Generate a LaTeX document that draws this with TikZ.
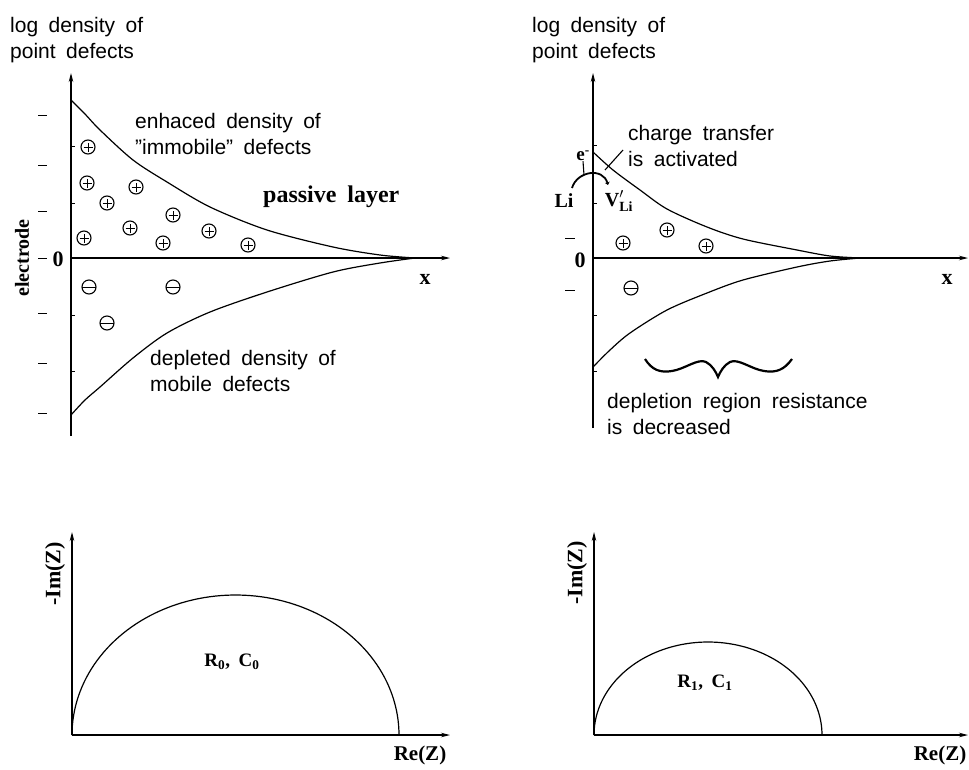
\documentclass[tikz,border=0pt]{standalone}
\usepackage{fontspec}
\setmainfont{Liberation Serif}[WordSpace=1.8]
\setsansfont{Liberation Sans}[WordSpace=1.8]
\usetikzlibrary{arrows.meta}

\begin{document}
\begin{tikzpicture}[x=1pt, y=-1pt,
    lbl/.style={font={\sffamily\fontsize{21}{26.5}\selectfont}, align=left, inner sep=0},
    bld/.style={font={\bfseries\fontsize{21}{24}\selectfont}, inner sep=0},
    axis/.style={line width=1.1pt, -{Stealth[length=9pt, width=4.5pt]}},
    curve/.style={line width=1.2pt},
    poschg/.style={circle, draw, line width=1.1pt, minimum size=14pt, inner sep=0,
        path picture={\draw[line width=1pt]
            ([xshift=-4.5pt]path picture bounding box.center) -- ([xshift=4.5pt]path picture bounding box.center)
            ([yshift=-4.5pt]path picture bounding box.center) -- ([yshift=4.5pt]path picture bounding box.center);}},
    negchg/.style={circle, draw, line width=1.1pt, minimum size=14pt, inner sep=0,
        path picture={\draw[line width=1pt]
            (path picture bounding box.west) -- (path picture bounding box.east);}},
]
\useasboundingbox (0,0) rectangle (969,769);

% ---- top left: passive layer
\coordinate (ly0) at (71,436);
\coordinate (ly1) at (71,73);
\coordinate (lx0) at (71,258);
\coordinate (lx1) at (450,258);
\draw[axis] (ly0) -- (ly1);
\draw[axis] (lx0) -- (lx1);
\foreach \y in {115,165,211,258,313,363,413} \draw[line width=1pt] (38,\y) -- (47,\y);
\foreach \y in {146,203,315,371} \draw[line width=1pt] (71,\y) -- (75,\y);
\draw[curve] plot[smooth] coordinates {(71,100) (85,114) (100,130) (133,160) (167,182)
    (210,207) (267,230) (333,247) (380,255) (415,258)};
\draw[curve] plot[smooth] coordinates {(71,415) (85,400) (100,387) (133,358) (167,333)
    (210,312) (267,292) (333,272) (380,263) (415,258)};
\foreach \px/\py [count=\i] in {88/147, 87/183, 136/187, 107/203, 173/215,
    130/228, 84/238, 163/243, 209/231, 248/245}
    \node[poschg] (lp\i) at (\px,\py) {};
\foreach \px/\py [count=\i] in {89/287, 173/287, 107/323}
    \node[negchg] (ln\i) at (\px,\py) {};

\node[lbl, anchor=north west] (ltitle) at (10,17) {log density of\\point defects};
\node[lbl, anchor=north west] (enh) at (135,113) {enhaced density of\\"immobile" defects};
\node[lbl, anchor=north west] (depl) at (150,350) {depleted density of\\mobile defects};
\node[bld, font={\bfseries\fontsize{24}{26}\selectfont}, anchor=base west] (pass) at (263,202) {passive layer};
\node[bld, font={\bfseries\fontsize{20}{24}\selectfont}, rotate=90] (elec) at (22,258) {electrode};
\node[bld, font={\bfseries\fontsize{22}{24}\selectfont}] (lzero) at (58,259) {0};
\node[bld, font={\bfseries\fontsize{22}{24}\selectfont}] (lxlab) at (425,279) {x};

% ---- top right: charge transfer
\coordinate (ry0) at (593,428);
\coordinate (ry1) at (593,73);
\coordinate (rx0) at (593,258);
\coordinate (rx1) at (968,258);
\draw[axis] (ry0) -- (ry1);
\draw[axis] (rx0) -- (rx1);
\foreach \y in {238,290} \draw[line width=1pt] (565,\y) -- (575,\y);
\foreach \y in {145,203,315,371} \draw[line width=1pt] (593,\y) -- (597,\y);
\draw[curve] plot[smooth] coordinates {(593,152) (613,170) (640,190) (667,209) (707,227)
    (743,239) (797,250) (830,256) (860,258)};
\draw[curve] plot[smooth] coordinates {(593,367) (610,350) (630,333) (667,310) (707,293)
    (743,280) (797,267) (830,261) (860,258)};
\foreach \px/\py [count=\i] in {623/243, 667/230, 706/246}
    \node[poschg] (rp\i) at (\px,\py) {};
\node[negchg] (rn1) at (631,288) {};

\node[lbl, anchor=north west] (rtitle) at (532,17) {log density of\\point defects};
\node[lbl, anchor=north west] (ctr) at (628,125) {charge transfer\\is activated};
\node[lbl, anchor=north west] (dres) at (607,393) {depletion region resistance\\is decreased};
\node[bld, font={\bfseries\fontsize{22}{24}\selectfont}] (rzero) at (580,260) {0};
\node[bld, font={\bfseries\fontsize{22}{24}\selectfont}] (rxlab) at (947,279) {x};
\node[bld, font={\bfseries\fontsize{19}{20}\selectfont}] (elec1) at (583,156) {e\textsuperscript{-}};
\node[bld, font={\bfseries\fontsize{20}{20}\selectfont}] (li) at (564,201) {Li};
\node[bld, font={\bfseries\fontsize{20}{20}\selectfont}] (vli) at (619,201) {V$'_{\mathbf{Li}}$};

\coordinate (hopa) at (572,188);
\coordinate (hopb) at (608,185);
\coordinate (hope) at (584,175);
\draw[line width=1.8pt, -{Stealth[length=3pt, width=5pt]}] (hopa) .. controls (577,171) and (603,167) .. (hopb);
\draw[line width=1.1pt] (elec1.south) -- (hope);
\coordinate (cta) at (605,170);
\coordinate (ctb) at (623,150);
\draw[line width=1.1pt] (cta) -- (ctb);

% brace under the depletion zone
\draw[line width=2.2pt] (645,359) .. controls (652,370) and (660,373) .. (672,371)
    .. controls (685,369) and (698,358) .. (706,362)
    .. controls (712,365) and (716,372) .. (718,377)
    .. controls (720,372) and (724,365) .. (730,362)
    .. controls (738,358) and (751,369) .. (764,371)
    .. controls (776,373) and (784,370) .. (792,359);

% ---- bottom left: impedance R0, C0
\coordinate (ay0) at (72,735);
\coordinate (ay1) at (72,532);
\coordinate (ax1) at (450,735);
\draw[axis] (ay0) -- (ay1);
\draw[axis] (ay0) -- (ax1);
\draw[curve] plot[domain=180:0, samples=90] ({235.5+163.5*cos(\x)}, {735-140*sin(\x)});
\node[bld, font={\bfseries\fontsize{19}{22}\selectfont}] (rc0) at (232,662) {R\textsubscript{0}, C\textsubscript{0}};
\node[bld, font={\bfseries\fontsize{22}{24}\selectfont}, rotate=90] (aim) at (55,574) {-Im(Z)};
\node[bld] (are) at (420,755) {Re(Z)};

% ---- bottom right: impedance R1, C1
\coordinate (by0) at (594,735);
\coordinate (by1) at (594,532);
\coordinate (bx1) at (968,735);
\draw[axis] (by0) -- (by1);
\draw[axis] (by0) -- (bx1);
\draw[curve] plot[domain=180:0, samples=90] ({708+114*cos(\x)}, {735-93*sin(\x)});
\node[bld, font={\bfseries\fontsize{19}{22}\selectfont}] (rc1) at (705,683) {R\textsubscript{1}, C\textsubscript{1}};
\node[bld, font={\bfseries\fontsize{22}{24}\selectfont}, rotate=90] (bim) at (577,573) {-Im(Z)};
\node[bld] (bre) at (940,755) {Re(Z)};
\end{tikzpicture}
\end{document}
